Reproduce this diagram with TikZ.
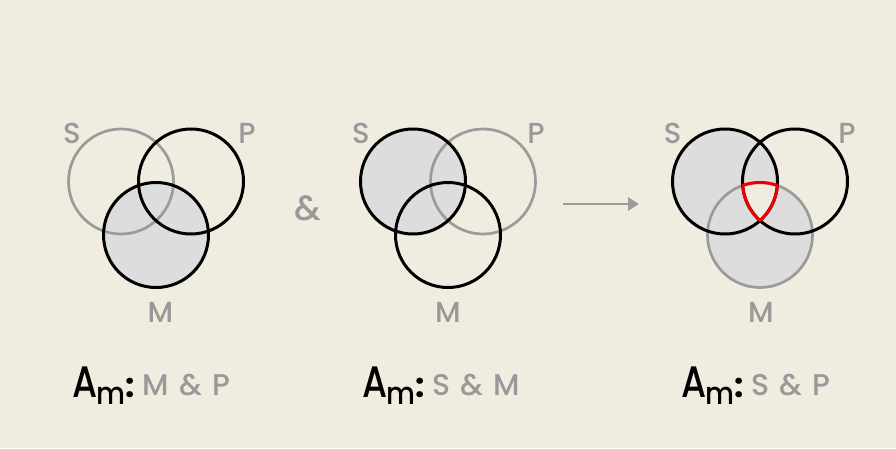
\documentclass[tikz,border=0pt]{standalone}
\usepackage{fontspec}
\setmainfont{Poppins Medium}
\newfontfamily\boldfam{Poppins Bold}
\newfontfamily\grayfam{Poppins Medium}[WordSpace=1.3]
\usetikzlibrary{arrows.meta}
\definecolor{bg}{HTML}{F0ECE0}
\definecolor{shadegray}{HTML}{DDDDDD}
\definecolor{ringgray}{HTML}{9B9B9B}
\definecolor{txtgray}{HTML}{999999}
\definecolor{redline}{HTML}{EE0000}
\newcommand\Rad{52.5}
\newcommand\Amlabel[1]{\scalebox{0.82}[1]{\fontsize{44}{44}\selectfont A}\hspace{-1pt}\raisebox{-7pt}{\scalebox{0.9}[1]{\fontsize{31}{31}\selectfont m}}{\boldfam\fontsize{33}{33}\selectfont :}\hspace{8pt}\raisebox{2pt}{\color{txtgray}\grayfam\fontsize{30}{30}\selectfont #1}}
\newcommand\triplepath{(17.64,-3.95) arc[start angle=109.31,end angle=70.69,radius=\Rad] arc[start angle=-4.31,end angle=-48.19,radius=\Rad] arc[start angle=228.19,end angle=184.31,radius=\Rad] -- cycle}
\begin{document}
\begin{tikzpicture}[x=1pt,y=1pt,
  blackring/.style={draw=black,line width=3pt},
  grayring/.style={draw=ringgray,line width=2.7pt},
  shadefill/.style={fill=shadegray},
  setlabel/.style={anchor=base,inner sep=0pt,text=txtgray,font=\fontsize{29}{29}\selectfont},
  amlabel/.style={anchor=base west,inner sep=0pt}]
\fill[bg] (0,0) rectangle (896,448);
\useasboundingbox (0,0) rectangle (896,448);
% centres
\coordinate (S1) at (121,266.5); \coordinate (P1) at (191,266.5); \coordinate (M1) at (156,213);
\coordinate (S2) at (413,266.5); \coordinate (P2) at (483,266.5); \coordinate (M2) at (448,213);
\coordinate (S3) at (725,266.5); \coordinate (P3) at (795,266.5); \coordinate (M3) at (760,213);
% diagram 1
\fill[shadefill] (M1) circle (\Rad);
\draw[grayring] (S1) circle (\Rad);
\draw[blackring] (P1) circle (\Rad);
\draw[blackring] (M1) circle (\Rad);
% diagram 2
\fill[shadefill] (S2) circle (\Rad);
\draw[grayring] (P2) circle (\Rad);
\draw[blackring] (S2) circle (\Rad);
\draw[blackring] (M2) circle (\Rad);
% diagram 3
\fill[shadefill] (S3) circle (\Rad);
\fill[shadefill] (M3) circle (\Rad);
\begin{scope}[shift={(S3)}]
\fill[bg] \triplepath;
\end{scope}
\draw[grayring] (M3) circle (\Rad);
\draw[blackring] (S3) circle (\Rad);
\draw[blackring] (P3) circle (\Rad);
\begin{scope}[shift={(S3)}]
\draw[draw=redline,line width=3pt,line join=round] \triplepath;
\end{scope}
% set labels
\node[setlabel] (s1) at (72,305) {S};
\node[setlabel] (p1) at (247,305) {P};
\node[setlabel] (m1) at (160.5,126) {M};
\node[setlabel] (s2) at (361,305) {S};
\node[setlabel] (p2) at (536,305) {P};
\node[setlabel] (m2) at (448,126) {M};
\node[setlabel] (s3) at (672.5,305) {S};
\node[setlabel] (p3) at (847,305) {P};
\node[setlabel] (m3) at (761,126) {M};
% ampersand and arrow
\node[setlabel,font=\fontsize{35}{35}\selectfont] (amp) at (308,228) {\&};
\coordinate (a1) at (563,244);
\coordinate (a2) at (639,244);
\draw[ringgray,line width=2.8pt,-{Triangle[length=11pt,width=13pt]}] (a1) -- (a2);
% bottom labels
\node[amlabel] (L1) at (72,51) {\Amlabel{M \& P}};
\node[amlabel] (L2) at (362,51) {\Amlabel{S \& M}};
\node[amlabel] (L3) at (681,51) {\Amlabel{S \& P}};
\end{tikzpicture}
\end{document}
